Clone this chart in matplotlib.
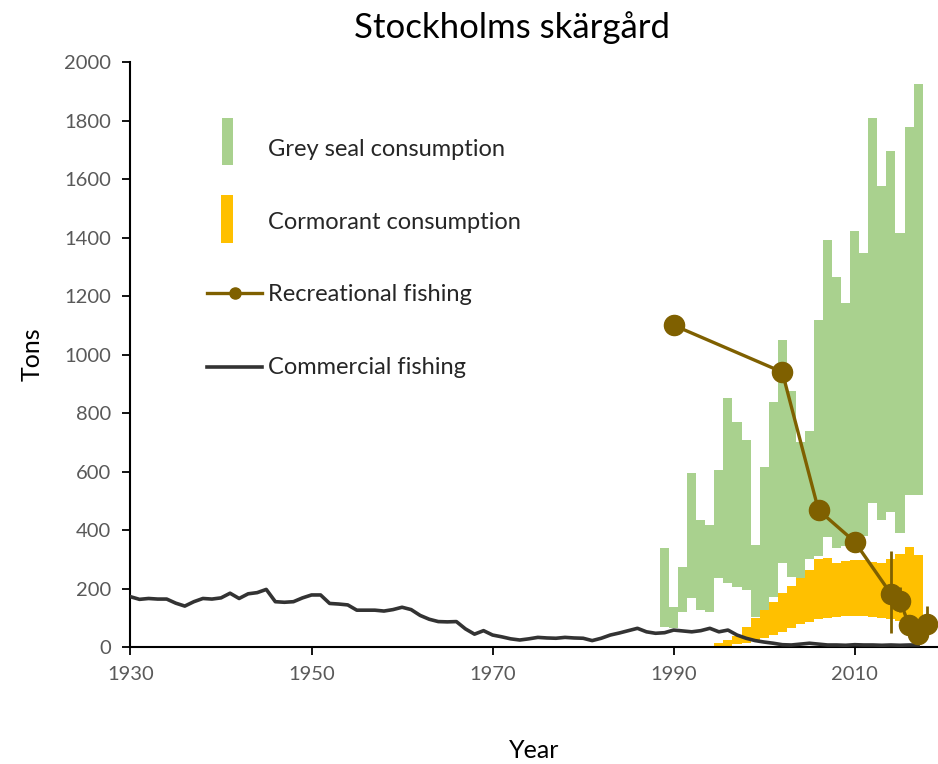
import matplotlib
matplotlib.use("Agg")
import matplotlib.pyplot as plt
import numpy as np
from matplotlib.patches import Rectangle
from matplotlib.lines import Line2D

plt.rcParams['font.family'] = ['Lato', 'DejaVu Sans']

# grey seal consumption, range per year
seal_years = list(range(1989, 2018))
seal_low = [70, 65, 120, 167, 126, 121, 235, 220, 206, 195, 104, 120,
            172, 287, 240, 230, 300, 310, 375, 340, 345, 340, 380, 492,
            434, 463, 390, 520, 520]
seal_high = [337, 138, 275, 594, 434, 417, 605, 850, 770, 708, 349, 615,
             837, 1050, 875, 700, 740, 1118, 1391, 1266, 1177, 1422, 1348,
             1807, 1576, 1697, 1414, 1777, 1925]

# cormorant consumption, range per year
corm_years = list(range(1995, 2018))
corm_low = [3, 5, 10, 15, 20, 30, 40, 52, 65, 78, 86, 95, 100, 104, 105,
            105, 105, 102, 100, 95, 90, 88, 85]
corm_high = [15, 25, 38, 68, 98, 125, 155, 185, 210, 235, 265, 300, 305,
             288, 295, 297, 297, 290, 288, 300, 318, 343, 315]

# recreational fishing
rec_years = [1990, 2002, 2006, 2010, 2014, 2015, 2016, 2017, 2018]
rec_vals = [1100, 940, 468, 360, 182, 158, 75, 43, 78]
rec_lo = [1100, 940, 468, 360, 48, 120, 40, 20, 45]
rec_hi = [1100, 940, 468, 360, 330, 205, 110, 70, 140]

# commercial fishing
com_years = list(range(1930, 2018))
com_vals = [172, 163, 166, 164, 164, 150, 140, 155, 166, 164, 168, 184,
            166, 182, 186, 197, 155, 153, 155, 168, 178, 178, 149, 147,
            144, 126, 126, 126, 123, 128, 136, 128, 108, 95, 87, 86, 87,
            62, 44, 56, 41, 35, 28, 24, 28, 33, 31, 30, 33, 31, 30, 22,
            30, 41, 48, 56, 64, 52, 47, 49, 58, 55, 52, 56, 64, 52, 58,
            41, 30, 22, 17, 13, 8, 7, 10, 13, 10, 7, 7, 6, 8, 7, 7, 6,
            7, 6, 7, 7]

xticks = [1930, 1950, 1970, 1990, 2010]
yticks = list(range(0, 2001, 200))

green = "#A9D18E"
yellow = "#FFC000"
brown = "#7F6000"
dark = "#333333"
grey = "#595959"

fig = plt.figure(figsize=(9.38, 7.64), dpi=100)
ax = fig.add_axes([0.1391, 0.1531, 0.8609, 0.7657])

s_low = np.array(seal_low)
s_high = np.array(seal_high)
ax.bar(seal_years, s_high - s_low, bottom=s_low, width=1.0,
       color=green, linewidth=0, zorder=1)
c_low = np.array(corm_low)
c_high = np.array(corm_high)
ax.bar(corm_years, c_high - c_low, bottom=c_low, width=1.0,
       color=yellow, linewidth=0, zorder=2)

ax.plot(com_years, com_vals, color=dark, lw=2.6, zorder=3)

rv = np.array(rec_vals)
ax.vlines(rec_years, rec_lo, rec_hi, color=brown, lw=2, zorder=4)
ax.plot(rec_years, rv, color=brown, lw=2.4, marker="o", markersize=14.5,
        zorder=5)

ax.set_xlim(1930, 2019.2)
ax.set_ylim(0, 2000)
ax.set_xticks(xticks)
ax.set_yticks(yticks)
ax.tick_params(axis="both", direction="out", length=6, width=1.3,
               labelsize=14.5, labelcolor=grey, color="black")
ax.tick_params(axis="y", pad=8)
ax.tick_params(axis="x", pad=8)
for side in ["top", "right"]:
    ax.spines[side].set_visible(False)
for side in ["left", "bottom"]:
    ax.spines[side].set_linewidth(1.5)

ax.set_ylabel("Tons", fontsize=18, labelpad=15)
ax.set_xlabel("Year", fontsize=18, labelpad=40)
fig.text(0.546, 0.964, "Stockholms skärgård", fontsize=25,
         ha="center", va="center")

# legend drawn by hand
tx = (268 - 130.5) / 807.5
def ay(py):
    return (647 - py) / 585.0

ax.add_patch(Rectangle(((222.5 - 130.5) / 807.5, ay(165)), 11 / 807.5,
                       47 / 585.0, transform=ax.transAxes, color=green,
                       lw=0, clip_on=False))
ax.add_patch(Rectangle(((221.5 - 130.5) / 807.5, ay(243)), 12 / 807.5,
                       48 / 585.0, transform=ax.transAxes, color=yellow,
                       lw=0, clip_on=False))
x0 = (207 - 130.5) / 807.5
x1 = (262 - 130.5) / 807.5
ax.add_line(Line2D([x0, x1], [ay(293), ay(293)], transform=ax.transAxes,
                   color=brown, lw=2.4))
ax.add_line(Line2D([(235 - 130.5) / 807.5], [ay(293)],
                   transform=ax.transAxes, color=brown, marker="o",
                   markersize=8))
ax.add_line(Line2D([x0, x1], [ay(367), ay(367)], transform=ax.transAxes,
                   color=dark, lw=2.6))
labels = ["Grey seal consumption", "Cormorant consumption",
          "Recreational fishing", "Commercial fishing"]
for lab, py in zip(labels, [149, 222, 294, 367]):
    ax.text(tx, ay(py), lab, transform=ax.transAxes, fontsize=17,
            color="#262626", va="center", ha="left")

fig.savefig("out.png", dpi=100)
